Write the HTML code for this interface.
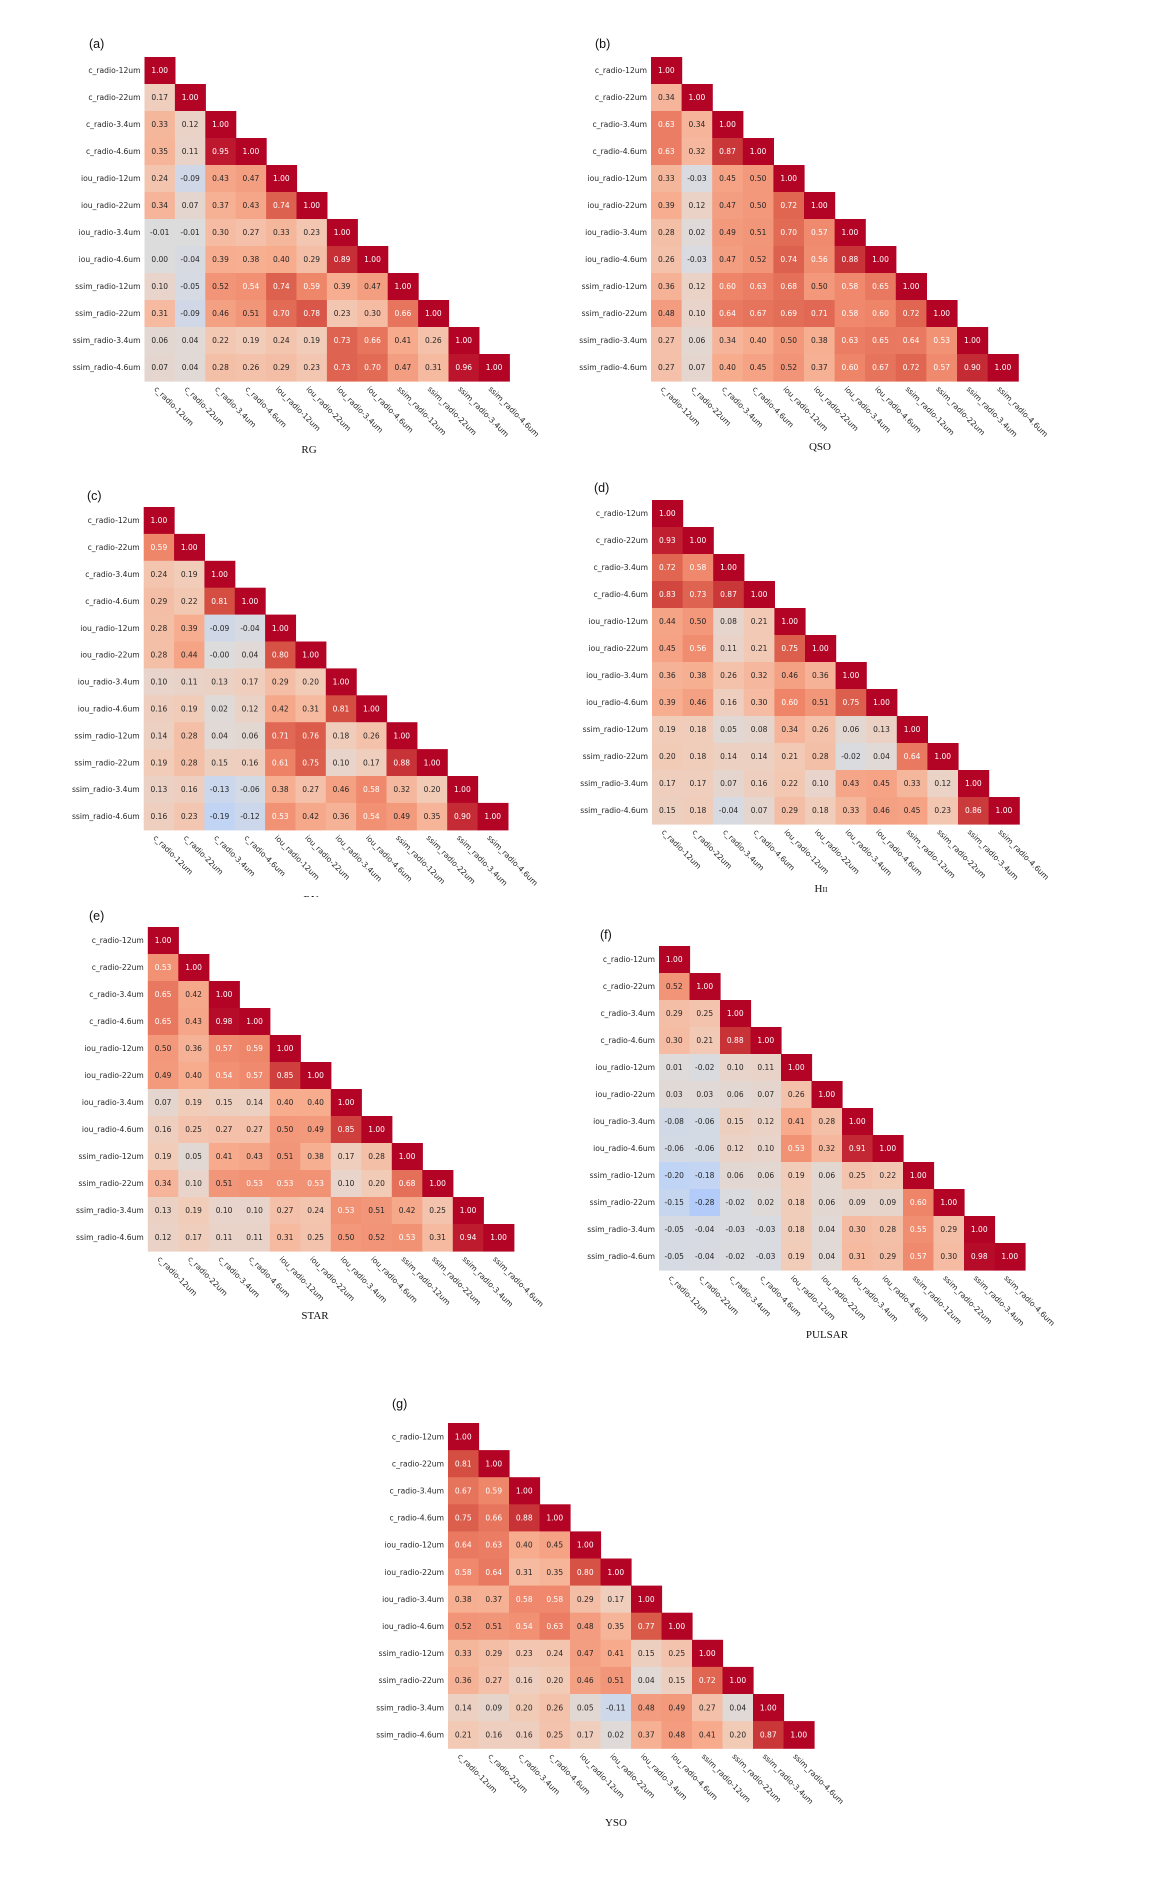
<!DOCTYPE html>
<html><head><meta charset="utf-8">
<style>
html,body{margin:0;padding:0;background:#fff;}
svg{display:block;}
</style></head>
<body>
<svg id="fig" xmlns="http://www.w3.org/2000/svg" width="1161" height="1897" viewBox="0 0 1161 1897">
<rect x="0" y="0" width="1161" height="1897" fill="#fff"/>
</svg>
<script>
const features = ["c_radio-12um","c_radio-22um","c_radio-3.4um","c_radio-4.6um","iou_radio-12um","iou_radio-22um","iou_radio-3.4um","iou_radio-4.6um","ssim_radio-12um","ssim_radio-22um","ssim_radio-3.4um","ssim_radio-4.6um"];

const rgValues = [
[1.00],
[0.17,1.00],
[0.33,0.12,1.00],
[0.35,0.11,0.95,1.00],
[0.24,-0.09,0.43,0.47,1.00],
[0.34,0.07,0.37,0.43,0.74,1.00],
[-0.01,-0.01,0.30,0.27,0.33,0.23,1.00],
[0.00,-0.04,0.39,0.38,0.40,0.29,0.89,1.00],
[0.10,-0.05,0.52,0.54,0.74,0.59,0.39,0.47,1.00],
[0.31,-0.09,0.46,0.51,0.70,0.78,0.23,0.30,0.66,1.00],
[0.06,0.04,0.22,0.19,0.24,0.19,0.73,0.66,0.41,0.26,1.00],
[0.07,0.04,0.28,0.26,0.29,0.23,0.73,0.70,0.47,0.31,0.96,1.00]];

const qsoValues = [
[1.00],
[0.34,1.00],
[0.63,0.34,1.00],
[0.63,0.32,0.87,1.00],
[0.33,-0.03,0.45,0.50,1.00],
[0.39,0.12,0.47,0.50,0.72,1.00],
[0.28,0.02,0.49,0.51,0.70,0.57,1.00],
[0.26,-0.03,0.47,0.52,0.74,0.56,0.88,1.00],
[0.36,0.12,0.60,0.63,0.68,0.50,0.58,0.65,1.00],
[0.48,0.10,0.64,0.67,0.69,0.71,0.58,0.60,0.72,1.00],
[0.27,0.06,0.34,0.40,0.50,0.38,0.63,0.65,0.64,0.53,1.00],
[0.27,0.07,0.40,0.45,0.52,0.37,0.60,0.67,0.72,0.57,0.90,1.00]];

const rnValues = [
[1.00],
[0.59,1.00],
[0.24,0.19,1.00],
[0.29,0.22,0.81,1.00],
[0.28,0.39,-0.09,-0.04,1.00],
[0.28,0.44,-0.001,0.04,0.80,1.00],
[0.10,0.11,0.13,0.17,0.29,0.20,1.00],
[0.16,0.19,0.02,0.12,0.42,0.31,0.81,1.00],
[0.14,0.28,0.04,0.06,0.71,0.76,0.18,0.26,1.00],
[0.19,0.28,0.15,0.16,0.61,0.75,0.10,0.17,0.88,1.00],
[0.13,0.16,-0.13,-0.06,0.38,0.27,0.46,0.58,0.32,0.20,1.00],
[0.16,0.23,-0.19,-0.12,0.53,0.42,0.36,0.54,0.49,0.35,0.90,1.00]];

const hiiValues = [
[1.00],
[0.93,1.00],
[0.72,0.58,1.00],
[0.83,0.73,0.87,1.00],
[0.44,0.50,0.08,0.21,1.00],
[0.45,0.56,0.11,0.21,0.75,1.00],
[0.36,0.38,0.26,0.32,0.46,0.36,1.00],
[0.39,0.46,0.16,0.30,0.60,0.51,0.75,1.00],
[0.19,0.18,0.05,0.08,0.34,0.26,0.06,0.13,1.00],
[0.20,0.18,0.14,0.14,0.21,0.28,-0.02,0.04,0.64,1.00],
[0.17,0.17,0.07,0.16,0.22,0.10,0.43,0.45,0.33,0.12,1.00],
[0.15,0.18,-0.04,0.07,0.29,0.18,0.33,0.46,0.45,0.23,0.86,1.00]];

const starValues = [
[1.00],
[0.53,1.00],
[0.65,0.42,1.00],
[0.65,0.43,0.98,1.00],
[0.50,0.36,0.57,0.59,1.00],
[0.49,0.40,0.54,0.57,0.85,1.00],
[0.07,0.19,0.15,0.14,0.40,0.40,1.00],
[0.16,0.25,0.27,0.27,0.50,0.49,0.85,1.00],
[0.19,0.05,0.41,0.43,0.51,0.38,0.17,0.28,1.00],
[0.34,0.10,0.51,0.53,0.53,0.53,0.10,0.20,0.68,1.00],
[0.13,0.19,0.10,0.10,0.27,0.24,0.53,0.51,0.42,0.25,1.00],
[0.12,0.17,0.11,0.11,0.31,0.25,0.50,0.52,0.53,0.31,0.94,1.00]];

const pulsarValues = [
[1.00],
[0.52,1.00],
[0.29,0.25,1.00],
[0.30,0.21,0.88,1.00],
[0.01,-0.02,0.10,0.11,1.00],
[0.03,0.03,0.06,0.07,0.26,1.00],
[-0.08,-0.06,0.15,0.12,0.41,0.28,1.00],
[-0.06,-0.06,0.12,0.10,0.53,0.32,0.91,1.00],
[-0.20,-0.18,0.06,0.06,0.19,0.06,0.25,0.22,1.00],
[-0.15,-0.28,-0.02,0.02,0.18,0.06,0.09,0.09,0.60,1.00],
[-0.05,-0.04,-0.03,-0.03,0.18,0.04,0.30,0.28,0.55,0.29,1.00],
[-0.05,-0.04,-0.02,-0.03,0.19,0.04,0.31,0.29,0.57,0.30,0.98,1.00]];

const ysoValues = [
[1.00],
[0.81,1.00],
[0.67,0.59,1.00],
[0.75,0.66,0.88,1.00],
[0.64,0.63,0.40,0.45,1.00],
[0.58,0.64,0.31,0.35,0.80,1.00],
[0.38,0.37,0.58,0.58,0.29,0.17,1.00],
[0.52,0.51,0.54,0.63,0.48,0.35,0.77,1.00],
[0.33,0.29,0.23,0.24,0.47,0.41,0.15,0.25,1.00],
[0.36,0.27,0.16,0.20,0.46,0.51,0.04,0.15,0.72,1.00],
[0.14,0.09,0.20,0.26,0.05,-0.11,0.48,0.49,0.27,0.04,1.00],
[0.21,0.16,0.16,0.25,0.17,0.02,0.37,0.48,0.41,0.20,0.87,1.00]];

const panelLetters = ["(a)","(b)","(c)","(d)","(e)","(f)","(g)"];
const panelTitles = ["RG","QSO","RN","HII","STAR","PULSAR","YSO"];

// layout (positions only)
const layouts = [
 {L:144.5,T:57,cw:30.4,ch:27,lx:89,ly:48,tx:309,ty:453},
 {L:651,T:57,cw:30.6,ch:27,lx:595,ly:48,tx:820,ty:450},
 {L:143.7,T:507,cw:30.35,ch:26.9,lx:87,ly:500,tx:311,ty:903},
 {L:652,T:500,cw:30.6,ch:27,lx:594,ly:492,tx:821,ty:892},
 {L:147.8,T:927,cw:30.5,ch:27,lx:89,ly:920,tx:315,ty:1319},
 {L:659,T:946,cw:30.5,ch:27,lx:600,ly:939,tx:827,ty:1338},
 {L:448,T:1423,cw:30.5,ch:27.1,lx:392,ly:1408,tx:616,ty:1826}
];
const allValues = [rgValues,qsoValues,rnValues,hiiValues,starValues,pulsarValues,ysoValues];

const stops = [[59,76,192],[89,119,227],[123,159,249],[158,190,255],[192,212,245],[221,220,220],[242,203,183],[247,172,142],[238,132,104],[214,82,68],[180,4,38]];
function coolwarm(v){ // v in [-1,1]
  let t=(v+1)/2; t=Math.max(0,Math.min(1,t));
  const p=t*10, i=Math.min(9,Math.floor(p)), f=p-i;
  const a=stops[i], b=stops[i+1];
  return [0,1,2].map(k=>Math.round(a[k]+(b[k]-a[k])*f));
}
function lum(c){
  const l=c.map(x=>{x/=255;return x<=0.03928?x/12.92:Math.pow((x+0.055)/1.055,2.4);});
  return 0.2126*l[0]+0.7152*l[1]+0.0722*l[2];
}
const NS="http://www.w3.org/2000/svg";
const svg=document.getElementById('fig');
function el(tag,attrs,parent){const e=document.createElementNS(NS,tag);for(const k in attrs)e.setAttribute(k,attrs[k]);(parent||svg).appendChild(e);return e;}
const FONT='"DejaVu Sans","Liberation Sans",sans-serif';

allValues.forEach((vals,p)=>{
  const lay=layouts[p];
  const g=el('g',{});
  
  
  const xAt=j=>lay.L+j*lay.cw, yAt=i=>lay.T+i*lay.ch;
  const n=features.length;
  for(let i=0;i<vals.length;i++){
    for(let j=0;j<vals[i].length;j++){
      const v=vals[i][j], c=coolwarm(v);
      const r=el('rect',{x:xAt(j),y:yAt(i),width:lay.cw+0.6,height:lay.ch+0.6,fill:`rgb(${c[0]},${c[1]},${c[2]})`},g);
      
      
      const t=el('text',{x:xAt(j)+lay.cw/2,y:yAt(i)+lay.ch/2+2.7,'text-anchor':'middle','font-family':FONT,'font-size':'7.5',fill:lum(c)>0.408?'#262626':'#ffffff'},g);
      
      
      t.textContent=v.toFixed(2);
    }
  }
  // y tick labels
  features.forEach((f,i)=>{
    const t=el('text',{x:lay.L-4,y:yAt(i)+lay.ch/2+2.7,'text-anchor':'end','font-family':FONT,'font-size':'7.6',fill:'#262626'},g);
    
    
    t.textContent=f;
  });
  // x tick labels
  const yb=yAt(n);
  features.forEach((f,j)=>{
    const x=xAt(j)+lay.cw/2-6, y=yb+8.5;
    const t=el('text',{x:x,y:y,transform:`rotate(45 ${x} ${y})`,'font-family':FONT,'font-size':'7.6',fill:'#262626'},g);
    
    
    t.textContent=f;
  });
  // panel letter
  const pl=el('text',{x:lay.lx,y:lay.ly,'font-family':'"Liberation Sans",sans-serif','font-size':'12.5',fill:'#111'},g);
  
  
  pl.textContent=panelLetters[p];
  // title
  const tt=el('text',{x:lay.tx,y:lay.ty,'text-anchor':'middle','font-family':'"Liberation Serif",serif','font-size':'11',fill:'#111'},g);
  
  
  if(panelTitles[p]==="HII"){
    tt.textContent="H";
    const ts=el('tspan',{'font-size':'7.5'},tt);
    ts.textContent="II";
  } else tt.textContent=panelTitles[p];
});
// RN title is cropped in the reference figure
const cover=el('rect',{x:280,y:897,width:70,height:10,fill:'#fff'});


</script>
</body></html>
